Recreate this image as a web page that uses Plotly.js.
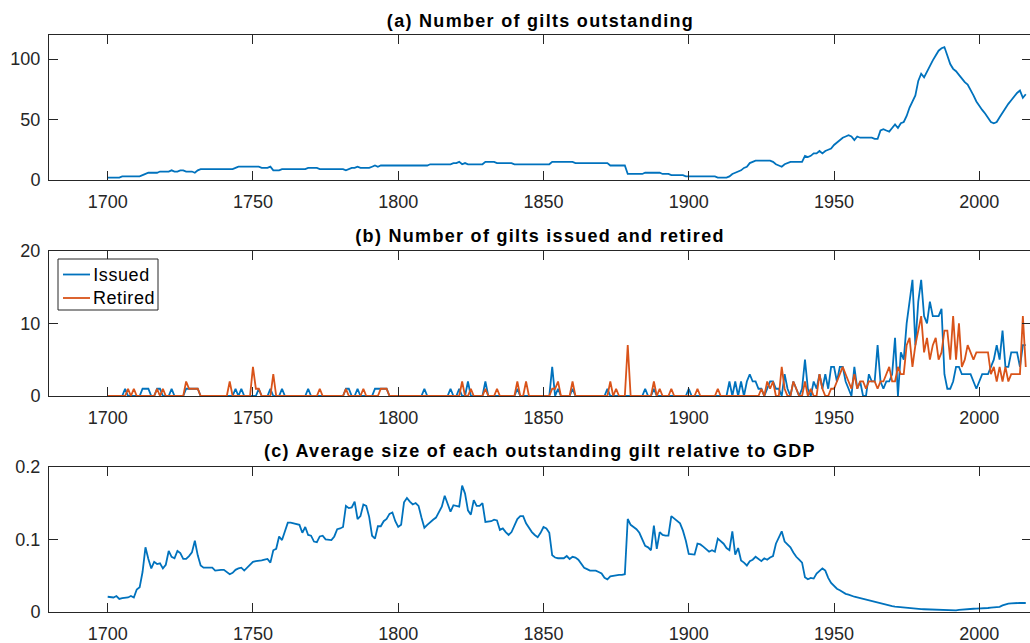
<!DOCTYPE html>
<html>
<head>
<meta charset="utf-8">
<script src="https://cdn.plot.ly/plotly-3.0.1.min.js"></script>
<style>
html,body{margin:0;padding:0;background:#fff;}
#wrap{width:1030px;height:643px;overflow:hidden;}
#chart{width:1032px;height:643px;}
</style>
</head>
<body>
<div id="wrap"><div id="chart"></div></div>
<script>
// ---------------- data (yearly, 1700-2016) ----------------
const startYear = 1700;

const giltsOutstanding = [
  2,2,2,2,2,3,3,3,3,3,
  3,3,4,5,6,6,6,6,7,7,
  7,7,8,7,7,8,8,7,7,7,
  6,8,9,9,9,9,9,9,9,9,
  9,9,9,9,10,11,11,11,11,11,
  11,11,11,10,10,10,11,8,8,8,
  9,9,9,9,9,9,9,9,9,10,
  10,10,10,9,9,9,9,9,9,9,
  9,9,8,9,10,10,11,10,10,10,
  10,11,12,11,12,12,12,12,12,12,
  12,12,12,12,12,12,12,12,12,12,
  12,13,13,13,13,13,13,13,13,14,
  14,15,13,14,13,13,13,13,13,13,
  15,15,15,15,14,14,14,14,14,14,
  13,13,13,13,13,13,13,13,13,13,
  13,13,13,15,15,15,15,15,15,15,
  15,14,14,14,14,14,14,14,14,14,
  14,14,14,12,12,12,12,12,12,5,
  5,5,5,5,5,6,6,6,6,6,
  6,5,5,5,4,4,4,4,4,3,
  3,3,3,3,3,3,3,3,3,3,
  2,2,2,2,3,5,6,7,8,10,
  11,14,15,16,16,16,16,16,16,15,
  13,12,11,13,14,15,15,15,15,15,
  20,19,20,22,22,24,22,24,25,26,
  29,31,33,35,36,37,36,33,36,35,
  35,35,35,35,34,34,41,42,41,40,
  43,46,43,47,48,53,60,65,70,82,
  88,85,90,95,99,103,107,109,110,103,
  96,92,90,87,84,81,79,75,70,65,
  61,58,55,51,48,47,48,52,56,60,
  63,66,69,72,74,68,71
];

const giltsIssued = [
  0,0,0,0,0,0,1,0,0,0,
  0,0,1,1,1,0,0,1,1,0,
  0,0,1,0,0,0,0,1,1,1,
  1,1,0,0,0,0,0,0,0,0,
  0,0,0,0,1,0,1,0,0,0,
  0,0,1,0,0,0,1,0,0,0,
  1,0,0,0,0,0,0,0,0,1,
  0,0,0,0,0,0,0,0,0,0,
  0,0,1,1,0,0,1,0,0,0,
  0,0,1,1,1,1,1,0,0,0,
  0,0,0,0,0,0,0,0,0,1,
  0,0,0,0,0,0,0,0,1,0,
  0,1,0,0,2,0,0,0,0,0,
  2,0,0,0,0,0,0,0,0,0,
  0,1,0,0,0,0,0,0,0,0,
  0,0,0,4,0,1,0,0,0,0,
  1,0,0,0,0,0,0,0,0,0,
  0,0,1,0,0,0,0,0,0,0,
  0,0,0,0,0,1,0,0,1,0,
  0,0,0,0,0,0,0,0,0,0,
  1,0,0,0,0,0,0,0,0,0,
  0,0,0,0,2,0,2,0,2,0,
  2,3,2,2,1,1,0,1,2,2,
  1,1,0,3,1,0,2,1,0,1,
  5,1,0,2,1,3,1,3,1,4,
  4,2,4,4,2,1,0,4,1,2,
  0,0,3,2,2,7,2,1,2,2,
  3,8,0,6,5,10,13,16,7,13,
  16,11,10,13,11,11,11,12,3,1,
  1,2,4,4,3,3,3,3,2,1,
  2,3,3,3,4,5,7,5,9,4,
  4,6,6,6,4,7,7
];

const giltsRetired = [
  0,0,0,0,0,0,0,1,0,1,
  0,0,0,0,0,0,0,1,0,1,
  0,0,0,0,0,0,0,2,1,1,
  1,1,0,0,0,0,0,0,0,0,
  0,0,2,0,0,0,0,0,0,0,
  4,1,1,0,0,0,0,3,0,0,
  0,0,0,0,0,0,0,0,0,0,
  0,0,0,1,0,0,0,0,0,0,
  0,0,1,0,0,0,0,0,1,0,
  0,0,0,0,1,1,1,0,0,0,
  0,0,0,0,0,0,0,0,0,0,
  0,0,0,0,0,0,0,0,0,0,
  0,0,2,0,0,1,0,0,0,0,
  1,0,0,0,1,0,0,0,0,0,
  0,2,0,0,2,0,0,0,0,0,
  0,0,0,1,1,2,0,0,0,0,
  2,0,0,0,0,0,0,0,0,0,
  0,0,0,2,0,1,0,0,0,7,
  0,0,0,0,0,0,0,0,2,0,
  1,0,0,0,1,0,0,0,0,0,
  0,0,0,1,0,0,0,0,0,0,
  1,0,0,0,0,0,0,0,0,0,
  0,0,0,0,0,1,0,2,1,2,
  0,0,4,1,0,0,2,1,0,0,
  2,0,1,0,0,3,1,0,0,1,
  1,2,3,4,3,2,1,3,1,2,
  2,1,2,2,2,1,2,2,3,4,
  2,2,4,3,3,7,8,4,7,9,
  11,6,8,5,7,8,5,6,9,9,
  5,11,5,10,4,5,7,6,5,6,
  6,6,6,6,3,4,2,4,2,4,
  2,3,3,3,3,11,4
];

const avgSizeToGDP = [
  0.021,0.020,0.020,0.022,0.018,0.019,0.019,0.020,0.022,0.020,
  0.031,0.034,0.055,0.089,0.073,0.060,0.069,0.066,0.067,0.060,
  0.065,0.084,0.076,0.074,0.084,0.081,0.073,0.073,0.077,0.082,
  0.098,0.078,0.064,0.061,0.061,0.061,0.061,0.057,0.058,0.058,
  0.058,0.055,0.052,0.054,0.058,0.060,0.061,0.057,0.061,0.066,
  0.069,0.070,0.070,0.071,0.072,0.073,0.068,0.085,0.087,0.104,
  0.099,0.112,0.123,0.123,0.122,0.122,0.120,0.109,0.117,0.106,
  0.105,0.097,0.096,0.104,0.105,0.100,0.100,0.099,0.104,0.114,
  0.115,0.117,0.146,0.143,0.144,0.152,0.128,0.132,0.148,0.146,
  0.131,0.105,0.101,0.118,0.118,0.125,0.128,0.135,0.137,0.125,
  0.117,0.120,0.151,0.157,0.152,0.148,0.150,0.146,0.130,0.116,
  0.120,0.124,0.127,0.130,0.138,0.145,0.160,0.150,0.138,0.147,
  0.146,0.145,0.174,0.163,0.140,0.134,0.154,0.146,0.146,0.150,
  0.124,0.124,0.125,0.127,0.126,0.113,0.115,0.110,0.106,0.110,
  0.120,0.128,0.132,0.132,0.122,0.115,0.110,0.106,0.103,0.109,
  0.117,0.115,0.109,0.078,0.075,0.074,0.074,0.074,0.077,0.073,
  0.076,0.075,0.072,0.066,0.061,0.059,0.057,0.057,0.057,0.055,
  0.053,0.047,0.045,0.049,0.050,0.050,0.051,0.051,0.052,0.128,
  0.120,0.117,0.114,0.109,0.100,0.091,0.089,0.085,0.119,0.087,
  0.110,0.106,0.105,0.105,0.132,0.129,0.126,0.122,0.112,0.098,
  0.080,0.080,0.079,0.094,0.093,0.090,0.087,0.083,0.085,0.083,
  0.101,0.097,0.094,0.088,0.085,0.111,0.079,0.088,0.071,0.068,
  0.064,0.070,0.072,0.076,0.073,0.070,0.074,0.072,0.075,0.077,
  0.094,0.102,0.111,0.097,0.093,0.089,0.082,0.076,0.072,0.068,
  0.048,0.045,0.047,0.046,0.053,0.057,0.060,0.057,0.047,0.040,
  0.036,0.032,0.030,0.027,0.025,0.024,0.022,0.021,0.020,0.019,
  0.018,0.017,0.016,0.015,0.014,0.013,0.011,0.010,0.0095,0.0085,
  0.008,0.0075,0.007,0.0065,0.006,0.0055,0.005,0.0048,0.0045,0.0042,
  0.004,0.0038,0.0036,0.0035,0.0034,0.0032,0.003,0.0027,0.0024,0.0021,
  0.0018,0.0018,0.0022,0.003,0.0035,0.004,0.0042,0.0044,0.0045,0.0046,
  0.0046,0.0047,0.005,0.0055,0.006,0.0065,0.0068,0.007,0.009,0.0105,
  0.0115,0.012,0.0124,0.0124,0.0125,0.0124,0.0124
];

const xTickValues = [1700,1750,1800,1850,1900,1950,2000];
const panelTitles = [
  '(a) Number of gilts outstanding',
  '(b) Number of gilts issued and retired',
  '(c) Average size of each outstanding gilt relative to GDP'
];
const seriesNames = ['Issued','Retired'];

// ---------------- layout / styling ----------------
const years = giltsOutstanding.map((_, i) => startYear + i);
const BLUE = '#0072BD', ORANGE = '#D95319', AXC = '#262626';
const FONT = 'Liberation Sans, Arial, Helvetica, sans-serif';

// pixel geometry of plot area
const W = 1032, H = 643, ML = 49, MR = 1, MT = 35, MB = 31;
const plotH = H - MT - MB, plotW = W - ML - MR;
const py = p => (H - MB - p) / plotH;   // pixel y -> paper y
const px = p => (p - ML) / plotW;       // pixel x -> paper x

function xAxis(anchor) {
  return {
    anchor: anchor, range: [1679.8, 2017.8],
    tickmode: 'array', tickvals: xTickValues,
    ticks: 'inside', ticklen: 9, tickwidth: 1, tickcolor: AXC,
    showline: true, linecolor: AXC, linewidth: 1, mirror: 'ticks',
    showgrid: false, zeroline: false,
    tickfont: {family: FONT, size: 18, color: AXC},
    ticklabelstandoff: 5
  };
}
function yAxis(anchor, dom, rng, tv, tt) {
  return {
    anchor: anchor, domain: dom, range: rng,
    tickmode: 'array', tickvals: tv, ticktext: tt,
    ticks: 'inside', ticklen: 9, tickwidth: 1, tickcolor: AXC,
    showline: true, linecolor: AXC, linewidth: 1, mirror: 'ticks',
    showgrid: false, zeroline: false,
    tickfont: {family: FONT, size: 18, color: AXC},
    ticklabelstandoff: 4
  };
}

const LW = 1.8;
const traces = [
  {x: years, y: giltsOutstanding, xaxis: 'x', yaxis: 'y', type: 'scatter', mode: 'lines',
   line: {color: BLUE, width: LW}},
  {x: years, y: giltsIssued, xaxis: 'x2', yaxis: 'y2', type: 'scatter', mode: 'lines',
   name: seriesNames[0], line: {color: BLUE, width: LW}},
  {x: years, y: giltsRetired, xaxis: 'x2', yaxis: 'y2', type: 'scatter', mode: 'lines',
   name: seriesNames[1], line: {color: ORANGE, width: LW}},
  {x: years, y: avgSizeToGDP, xaxis: 'x3', yaxis: 'y3', type: 'scatter', mode: 'lines',
   line: {color: BLUE, width: LW}}
];

const titleY = [21, 236, 451];
const titleAnn = panelTitles.map((t, i) => ({
  text: '<b>' + t + '</b>', xref: 'paper', yref: 'paper',
  x: px(540), y: py(titleY[i]), xanchor: 'center', yanchor: 'middle',
  showarrow: false, font: {family: FONT, size: 18, color: '#000'}
}));

// legend drawn by hand (box + samples + labels) inside panel (b)
const legBox = {x0: 58, x1: 158, y0: 259, y1: 310};
const legRows = [{y: 274.5, color: BLUE}, {y: 298, color: ORANGE}];
const legendShapes = [
  {type: 'rect', xref: 'paper', yref: 'paper',
   x0: px(legBox.x0), x1: px(legBox.x1), y0: py(legBox.y1), y1: py(legBox.y0),
   line: {color: AXC, width: 1}, fillcolor: '#fff', layer: 'above'}
].concat(legRows.map(r => ({
  type: 'line', xref: 'paper', yref: 'paper',
  x0: px(63), x1: px(90), y0: py(r.y), y1: py(r.y),
  line: {color: r.color, width: LW}, layer: 'above'
})));
const legendAnn = legRows.map((r, i) => ({
  text: seriesNames[i], xref: 'paper', yref: 'paper',
  x: px(93), y: py(r.y), xanchor: 'left', yanchor: 'middle',
  showarrow: false, font: {family: FONT, size: 18, color: '#000'}
}));

const layout = {
  width: W, height: H,
  margin: {l: ML, r: MR, t: MT, b: MB, pad: 0},
  paper_bgcolor: '#fff', plot_bgcolor: '#fff',
  font: {family: FONT, color: AXC},
  showlegend: false,
  xaxis: xAxis('y'),
  xaxis2: xAxis('y2'),
  xaxis3: xAxis('y3'),
  yaxis: yAxis('x', [py(180), 1], [0, 120], [0, 50, 100], ['0','50','100']),
  yaxis2: yAxis('x2', [py(396), py(250.7)], [0, 20], [0, 10, 20], ['0','10','20']),
  yaxis3: yAxis('x3', [0, py(466.7)], [0, 0.2], [0, 0.1, 0.2], ['0','0.1','0.2']),
  shapes: legendShapes,
  annotations: titleAnn.concat(legendAnn)
};

Plotly.newPlot('chart', traces, layout, {displayModeBar: false, staticPlot: true}).then(() => {
  // slight letter spacing on the titles and legend labels, as in the reference rendering
  document.querySelectorAll('.annotation').forEach((g, i) => {
    const t = g.querySelector('.annotation-text');
    if (t) t.style.letterSpacing = (i < panelTitles.length) ? '1.3px' : '0.6px';
  });
});
</script>
</body>
</html>
